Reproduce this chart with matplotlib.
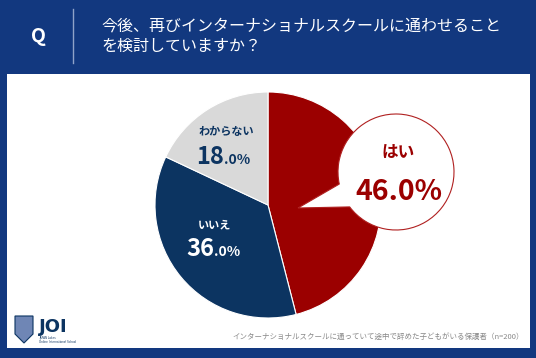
import matplotlib.pyplot as plt
from matplotlib.patches import Rectangle, PathPatch, Polygon
from matplotlib.path import Path
import numpy as np

plt.rcParams['font.family'] = ['Noto Sans CJK JP', 'DejaVu Sans']

# データ
labels = ['はい', 'いいえ', 'わからない']
values = [46.0, 36.0, 18.0]
colors = ['#9b0000', '#0c3461', '#d9d9d9']
title = '今後、再びインターナショナルスクールに通わせること\nを検討していますか？'
note = 'インターナショナルスクールに通っていて途中で辞めた子どもがいる保護者（n=200）'

W, H = 536, 358
bg = '#12387f'
red = '#9b0000'
navy = '#0c3461'

fig = plt.figure(figsize=(W / 100, H / 100), dpi=100)
fig.patch.set_facecolor(bg)
ax = fig.add_axes([0, 0, 1, 1])
ax.set_facecolor(bg)

def y(v):
    # 画像座標 -> データ座標
    return H - v

# 白パネル
ax.add_patch(Rectangle((7, y(348)), 523, 274, facecolor='white', edgecolor='none', zorder=0))

# ヘッダー
ax.text(38, y(37), 'Q', color='white', fontsize=14, fontweight='bold', ha='center', va='center')
ax.plot([73, 73], [y(9), y(63)], color='#8fa3c9', lw=1)
ax.text(101, y(36), title, color='white', fontsize=11.5, ha='left', va='center', linespacing=1.25)

# 円グラフ
cx, cy, r = 268, y(205), 113
ax.pie(values, colors=colors, startangle=90, counterclock=False,
       center=(cx, cy), radius=r,
       wedgeprops=dict(edgecolor='white', linewidth=0.8))

# 吹き出し
bcx, bcy, br = 396, y(172), 58
arc = Path.arc(217, 192)
verts = list(arc.vertices * br + np.array([bcx, bcy]))
codes = list(arc.codes)
verts += [(298, y(208)), verts[0]]
codes += [Path.LINETO, Path.CLOSEPOLY]
ax.add_patch(PathPatch(Path(verts, codes), facecolor='white', edgecolor='#b02020', lw=0.8, zorder=5))

ax.text(398, y(153), labels[0], color=red, fontsize=12, fontweight='bold', ha='center', va='center', zorder=6)
ax.text(399, y(192), f'{values[0]:.1f}%', color=red, fontsize=20.5, fontweight='bold', ha='center', va='center', zorder=6)

# いいえ / わからない のラベル
ax.text(226, y(131), labels[2], color=navy, fontsize=8, fontweight='bold', ha='center', va='center')
ax.text(224, y(164), f'{int(values[2])}', color=navy, fontsize=17, fontweight='bold', ha='right', va='baseline')
ax.text(224, y(164), '.0%', color=navy, fontsize=10, fontweight='bold', ha='left', va='baseline')

ax.text(215, y(225), labels[1], color='white', fontsize=8, fontweight='bold', ha='center', va='center')
ax.text(214, y(256), f'{int(values[1])}', color='white', fontsize=17, fontweight='bold', ha='right', va='baseline')
ax.text(214, y(256), '.0%', color='white', fontsize=10, fontweight='bold', ha='left', va='baseline')

# フッター
ax.text(524, y(337), note, color='#888888', fontsize=5.4, ha='right', va='center')

# ロゴ
shield = Polygon([(15, y(316)), (33, y(316)), (33, y(334)), (24, y(343)), (15, y(334))],
                 closed=True, facecolor='#6f86b5', edgecolor=navy, lw=0.8)
ax.add_patch(shield)
ax.text(39, y(327), 'JOI', color=navy, fontsize=13, fontweight='bold', ha='left', va='center',
        family='DejaVu Sans')
ax.text(39, y(340), 'JAPAN Lakes\nOnline International School', color=navy, fontsize=2, ha='left', va='center',
        family='DejaVu Sans')

ax.set_xlim(0, W)
ax.set_ylim(0, H)
ax.set_aspect('equal')
ax.axis('off')

fig.savefig('out.png', dpi=100, facecolor=bg)
